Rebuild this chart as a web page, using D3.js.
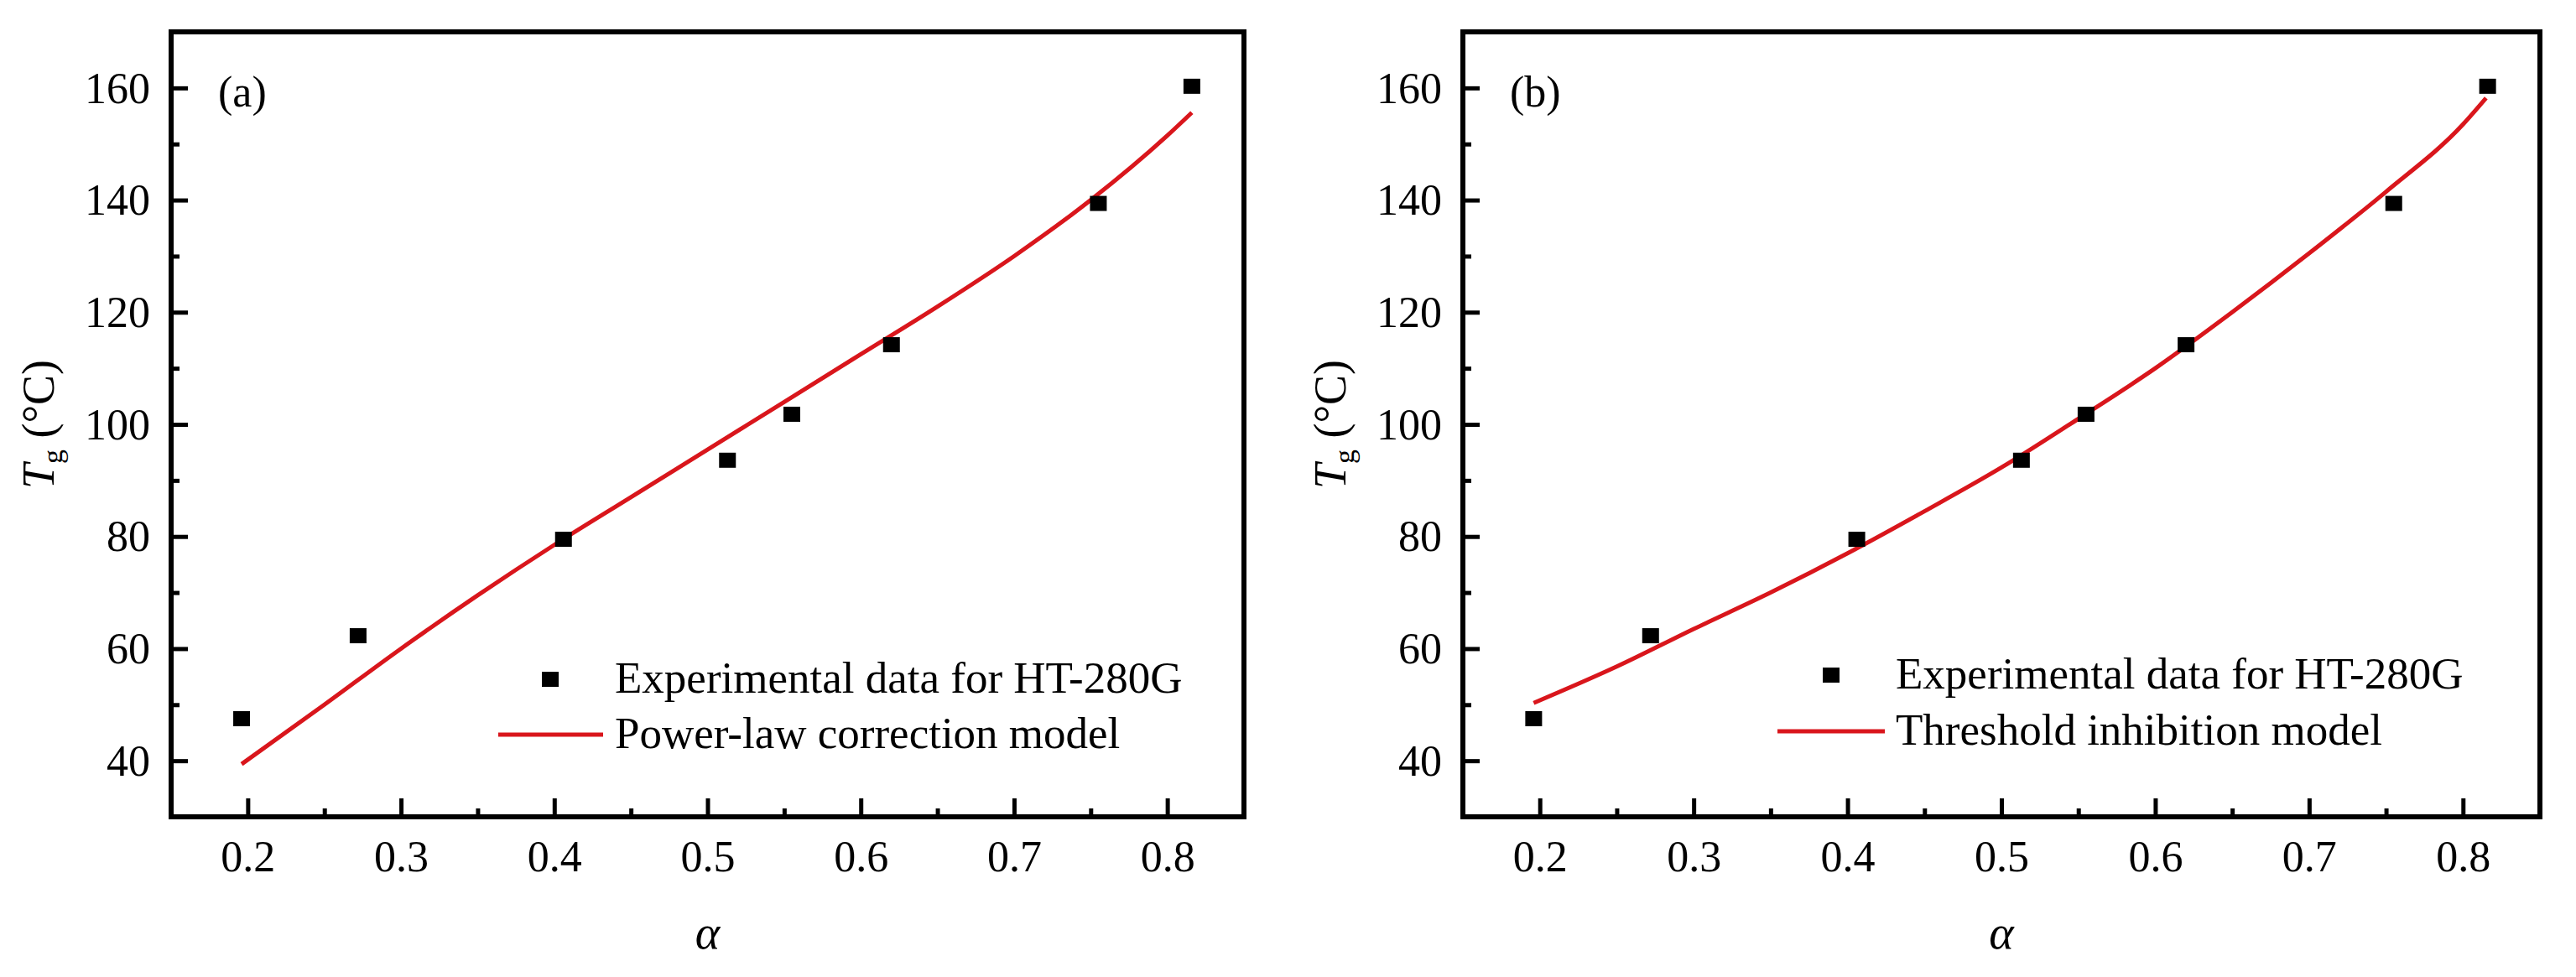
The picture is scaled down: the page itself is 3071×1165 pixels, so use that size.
<!DOCTYPE html>
<html>
<head>
<meta charset="utf-8">
<script src="https://cdn.jsdelivr.net/npm/d3@7"></script>
<style>
  body { margin: 0; background: #fff; }
  text { font-family: "Liberation Serif", "Times New Roman", serif; fill: #000; }
</style>
</head>
<body>
<svg id="chart" width="3071" height="1165"></svg>
<script>
// experimental points (same in both panels)
const alpha = [0.196, 0.272, 0.406, 0.513, 0.555, 0.62, 0.755, 0.816];
const tgExp = [47.5, 62.3, 79.5, 93.6, 101.8, 114.2, 139.4, 160.3];

// model curves
const powerAlpha = [0.196, 0.25, 0.3, 0.35, 0.4, 0.45, 0.5, 0.55, 0.6, 0.65, 0.7, 0.75, 0.8, 0.816];
const powerTg = [39.4, 50.0, 60.0, 69.5, 78.5, 87.0, 95.5, 104.0, 112.5, 121.0, 130.0, 140.0, 151.5, 155.6];
const thresholdAlpha = [0.196, 0.25, 0.3, 0.35, 0.4, 0.45, 0.5, 0.55, 0.6, 0.65, 0.7, 0.75, 0.8, 0.815];
const thresholdTg = [50.3, 56.8, 63.5, 70.0, 77.0, 84.5, 92.3, 101.0, 110.0, 120.0, 130.5, 141.5, 153.5, 158.2];

const xTicks = [0.2, 0.3, 0.4, 0.5, 0.6, 0.7, 0.8];
const xMinor = [0.25, 0.35, 0.45, 0.55, 0.65, 0.75];
const yTicks = [40, 60, 80, 100, 120, 140, 160];
const yMinor = [50, 70, 90, 110, 130, 150];

const expLabel = "Experimental data for HT-280G";
const modelLabels = ["Power-law correction model", "Threshold inhibition model"];
const tags = ["(a)", "(b)"];

const red = "#d9161c";
const serif = '"Liberation Serif", "Times New Roman", serif';
const svg = d3.select("#chart");

const layout = [
  { left: 204, right: 1483, leg: { mark: 452, l0: 390, l1: 515, text: 529, y1: 826, y2: 892 } },
  { left: 1744, right: 3028, leg: { mark: 439, l0: 375, l1: 503, text: 516, y1: 821, y2: 888 } },
];
const plotTop = 38, plotBottom = 974;

const models = [
  powerAlpha.map((a, i) => [a, powerTg[i]]),
  thresholdAlpha.map((a, i) => [a, thresholdTg[i]]),
];

layout.forEach((p, k) => {
  const w = p.right - p.left, h = plotBottom - plotTop;
  const g = svg.append("g").attr("transform", `translate(${p.left},${plotTop})`);
  const x = d3.scaleLinear().domain([0.15, 0.85]).range([0, w]);
  const y = d3.scaleLinear().domain([30, 170]).range([h, 0]);

  // minor ticks
  g.append("g").attr("transform", `translate(0,${h})`)
    .call(d3.axisBottom(x).tickValues(xMinor).tickSize(-10).tickFormat(""))
    .call((s) => s.select(".domain").remove())
    .selectAll("line").attr("stroke-width", 5);
  g.append("g")
    .call(d3.axisLeft(y).tickValues(yMinor).tickSize(-10).tickFormat(""))
    .call((s) => s.select(".domain").remove())
    .selectAll("line").attr("stroke-width", 5);

  // major ticks
  const xa = g.append("g").attr("transform", `translate(0,${h})`)
    .call(d3.axisBottom(x).tickValues(xTicks).tickSize(-22).tickPadding(0).tickFormat(d3.format(".1f")))
    .attr("font-family", serif);
  xa.select(".domain").remove();
  xa.selectAll("line").attr("stroke-width", 5);
  xa.selectAll("text").attr("font-size", 52).attr("dy", null).attr("y", 65);

  const ya = g.append("g")
    .call(d3.axisLeft(y).tickValues(yTicks).tickSize(-20).tickPadding(0))
    .attr("font-family", serif);
  ya.select(".domain").remove();
  ya.selectAll("line").attr("stroke-width", 5);
  ya.selectAll("text").attr("font-size", 52).attr("x", -25).attr("dy", "0.33em");

  // frame
  g.append("rect").attr("width", w).attr("height", h)
    .attr("fill", "none").attr("stroke", "#000").attr("stroke-width", 6);

  // model curve
  g.append("path").datum(models[k])
    .attr("d", d3.line().x((d) => x(d[0])).y((d) => y(d[1])).curve(d3.curveMonotoneX))
    .attr("fill", "none").attr("stroke", red).attr("stroke-width", 5);

  // experimental squares
  g.selectAll("rect.pt").data(alpha).join("rect").attr("class", "pt")
    .attr("x", (d) => x(d) - 10).attr("y", (d, i) => y(tgExp[i]) - 9)
    .attr("width", 20).attr("height", 18).attr("fill", "#000");

  // panel tag
  g.append("text").attr("x", 56).attr("y", 89).attr("font-size", 52).text(tags[k]);

  // axis titles
  const yl = g.append("text")
    .attr("transform", `translate(${-140},${h / 2}) rotate(-90)`)
    .attr("text-anchor", "middle").attr("font-size", 54);
  yl.append("tspan").attr("font-style", "italic").text("T");
  yl.append("tspan").attr("font-size", 34).attr("dy", 10).text("g");
  yl.append("tspan").attr("dy", -10).text(" (°C)");

  g.append("text").attr("x", w / 2).attr("y", 1131 - plotTop)
    .attr("text-anchor", "middle").attr("font-size", 56).attr("font-style", "italic").text("α");

  // legend
  const L = p.leg;
  g.append("rect").attr("x", L.mark - 10).attr("y", L.y1 - 16 - plotTop - 9)
    .attr("width", 20).attr("height", 18).attr("fill", "#000");
  g.append("text").attr("x", L.text).attr("y", L.y1 - plotTop).attr("font-size", 53).text(expLabel);
  g.append("line").attr("x1", L.l0).attr("x2", L.l1)
    .attr("y1", L.y2 - 16 - plotTop).attr("y2", L.y2 - 16 - plotTop)
    .attr("stroke", red).attr("stroke-width", 5);
  g.append("text").attr("x", L.text).attr("y", L.y2 - plotTop).attr("font-size", 53).text(modelLabels[k]);
});
</script>
</body>
</html>
